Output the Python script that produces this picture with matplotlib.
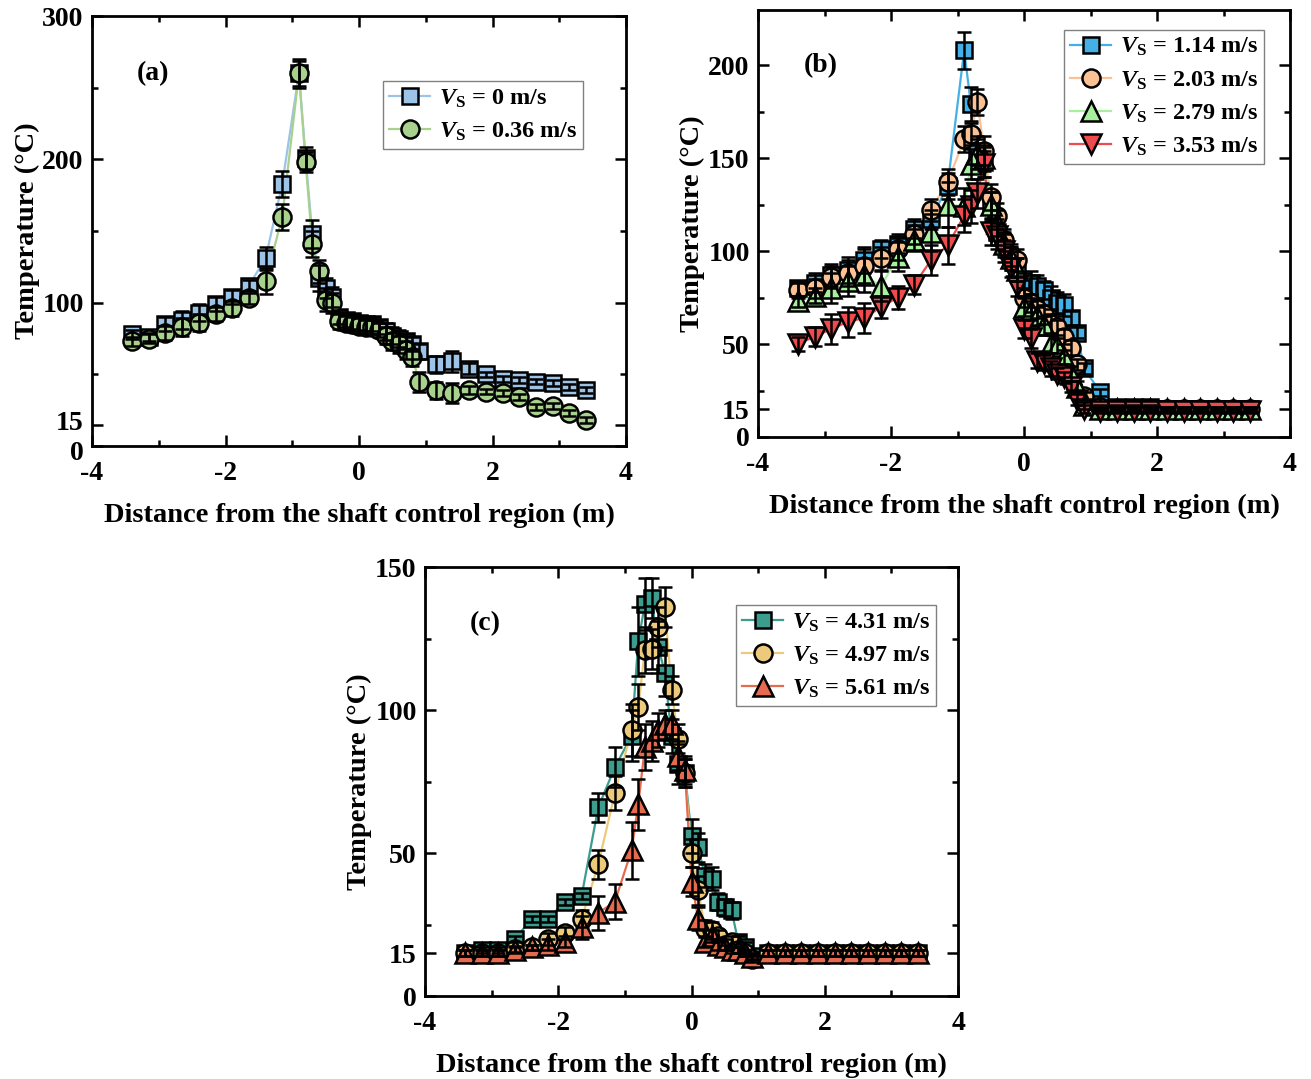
import matplotlib
matplotlib.use("Agg")
import matplotlib.pyplot as plt
import matplotlib.transforms as mtransforms
from matplotlib.ticker import FixedLocator, FixedFormatter

plt.rcParams['font.family'] = ['Liberation Serif', 'DejaVu Serif']
plt.rcParams['font.weight'] = 'bold'
plt.rcParams['mathtext.fontset'] = 'custom'
plt.rcParams['mathtext.rm'] = 'Liberation Serif:bold'
plt.rcParams['mathtext.it'] = 'Liberation Serif:italic:bold'
plt.rcParams['mathtext.bf'] = 'Liberation Serif:bold'
plt.rcParams['axes.unicode_minus'] = False

# thermocouple positions (m): 0.25 m spacing outside, 0.1 m spacing near the shaft
dist = [-3.4, -3.15, -2.9, -2.65, -2.4, -2.15, -1.9, -1.65, -1.4, -1.15, -0.9,
        -0.8, -0.7, -0.6, -0.5, -0.4, -0.3, -0.2, -0.1, 0.0,
        0.1, 0.2, 0.3, 0.4, 0.5, 0.6, 0.7, 0.8,
        0.9, 1.15, 1.4, 1.65, 1.9, 2.15, 2.4, 2.65, 2.9, 3.15, 3.4]

# (a) low shaft velocities
T_a_000 = [78, 76, 85, 88, 93, 99, 104, 112, 131, 183, 260,
           201, 148, 117, 110, 104, 90, 88, 87, 86,
           85, 85, 83, 80, 77, 75, 73, 71,
           66, 57, 59, 54, 50, 47, 46, 45, 44, 41, 39]
E_a_000 = [3, 3, 5, 6, 6, 5, 5, 4, 8, 9, 10,
           8, 10, 9, 7, 7, 5, 5, 5, 5,
           5, 5, 5, 6, 6, 6, 5, 5,
           5, 6, 7, 4, 2, 2, 2, 2, 2, 2, 2]
T_a_036 = [73, 75, 79, 83, 86, 92, 96, 103, 115, 160, 260,
           198, 141, 122, 102, 100, 87, 86, 85, 84,
           83, 83, 81, 77, 73, 71, 67, 62,
           45, 39, 37, 39, 38, 37, 34, 27, 28, 23, 18]
E_a_036 = [3, 3, 5, 6, 6, 5, 5, 4, 9, 9, 9,
           7, 9, 8, 8, 7, 5, 5, 5, 5,
           5, 5, 5, 6, 6, 6, 6, 6,
           7, 6, 7, 3, 2, 2, 2, 2, 2, 2, 2]

# (b) intermediate shaft velocities
T_b_114 = [80, 83, 87, 90, 95, 101, 104, 112, 117, 135, 208,
           179, 154, 148, 124, 110, 103, 96, 90, 82,
           83, 81, 79, 75, 72, 71, 64, 56,
           37, 24, 16, 16, 16, 15, 15, 15, 15, 15, 15]
E_b_114 = [4, 5, 6, 7, 7, 5, 5, 5, 5, 7, 10,
           9, 8, 8, 8, 7, 6, 6, 6, 6,
           6, 6, 5, 6, 6, 6, 4, 3,
           3, 2, 1, 1, 1, 1, 1, 1, 1, 1, 1]
T_b_203 = [79, 80, 86, 88, 92, 96, 101, 109, 122, 137, 160,
           163, 180, 154, 129, 119, 106, 98, 95, 75,
           72, 69, 66, 61, 59, 54, 48, 39,
           22, 16, 15, 15, 15, 15, 15, 15, 15, 15, 15]
E_b_203 = [4, 5, 6, 7, 9, 6, 6, 5, 6, 7, 7,
           6, 7, 8, 7, 7, 6, 6, 6, 5,
           5, 5, 5, 5, 4, 4, 4, 3,
           2, 1, 1, 1, 1, 1, 1, 1, 1, 1, 1]
T_b_279 = [73, 76, 80, 84, 87, 81, 97, 106, 110, 125, 124,
           147, 152, 150, 125, 115, 104, 96, 90, 70,
           68, 65, 60, 50, 49, 43, 34, 27,
           17, 15, 15, 15, 15, 15, 15, 15, 15, 15, 15]
E_b_279 = [3, 4, 8, 8, 9, 8, 8, 6, 10, 12, 10,
           8, 8, 7, 7, 7, 6, 6, 6, 5,
           5, 5, 5, 5, 4, 4, 4, 3,
           2, 1, 1, 1, 1, 1, 1, 1, 1, 1, 1]
T_b_353 = [50, 54, 58, 62, 64, 70, 75, 82, 95, 103, 119,
           124, 131, 147, 110, 108, 100, 91, 81, 58,
           53, 41, 40, 37, 34, 32, 27, 20,
           15, 14, 14, 14, 14, 14, 14, 14, 14, 14, 14]
E_b_353 = [4, 5, 8, 8, 8, 6, 6, 5, 8, 10, 9,
           9, 8, 7, 7, 7, 6, 5, 5, 5,
           5, 4, 4, 4, 3, 3, 3, 3,
           2, 1, 1, 1, 1, 1, 1, 1, 1, 1, 1]

# (c) high shaft velocities
T_c_431 = [15, 16, 16, 20, 27, 27, 33, 35, 66, 80, 91,
           124, 137, 139, 122, 113, 91, 81, 78, 56,
           52, 42, 41, 33, 31, 30, 19, 17,
           14, 15, 15, 15, 15, 15, 15, 15, 15, 15, 15]
E_c_431 = [1, 1, 1, 1, 1, 1, 1, 1, 5, 7, 9,
           12, 9, 7, 9, 8, 6, 7, 5, 6,
           5, 4, 4, 3, 3, 3, 2, 2,
           1, 1, 1, 1, 1, 1, 1, 1, 1, 1, 1]
T_c_497 = [15, 15, 15, 16.5, 17, 20, 22, 27, 46, 71, 93,
           101, 121, 121.5, 129, 136, 107, 90, 78, 50,
           37, 23.5, 23, 21, 18, 19, 16, 15,
           13, 15, 15, 15, 15, 15, 15, 15, 15, 15, 15]
E_c_497 = [1, 1, 1, 1, 1, 2, 2, 3, 5, 6, 9,
           8, 8, 7, 7, 7, 5, 5, 5, 5,
           5, 3, 3, 2, 2, 2, 1, 1,
           1, 1, 1, 1, 1, 1, 1, 1, 1, 1, 1]
T_c_561 = [15, 15, 15, 16, 17, 18, 19, 24, 29, 33, 51,
           67, 87, 89, 93, 95, 95, 84, 79, 40,
           27, 19, 21, 18, 17, 16, 16, 15,
           13.5, 15, 15, 15, 15, 15, 15, 15, 15, 15, 15]
E_c_561 = [1, 1, 1, 1, 1, 2, 2, 4, 6, 6, 10,
           9, 8, 7, 6, 5, 5, 5, 5, 5,
           4, 2, 2, 2, 1, 1, 1, 1,
           1, 1, 1, 1, 1, 1, 1, 1, 1, 1, 1]

x_label = 'Distance from the shaft control region (m)'
y_label = 'Temperature (°C)'


def draw_series(ax, y, err, color, marker, label, ms=13):
    ax.plot(dist, y, '-', color=color, lw=1.6, zorder=2)
    ax.plot(dist, y, linestyle='none', marker=marker, ms=ms, mfc=color,
            mec='black', mew=1.8, zorder=3)
    ax.errorbar(dist, y, yerr=err, fmt='none', ecolor='black', elinewidth=1.8,
                capsize=5, capthick=1.8, zorder=4)
    # legend proxy
    ax.plot([], [], '-', color=color, lw=1.6, marker=marker, ms=ms, mfc=color,
            mec='black', mew=1.8, label=label)


def style_axes(ax, ymax, major, minor, labels, tag, tag_pos):
    ax.set_xlim(-4, 4)
    ax.set_ylim(0, ymax)
    ax.xaxis.set_major_locator(FixedLocator([-4, -2, 0, 2, 4]))
    ax.xaxis.set_minor_locator(FixedLocator([-3, -1, 1, 3]))
    ax.yaxis.set_major_locator(FixedLocator(major))
    ax.yaxis.set_major_formatter(FixedFormatter(labels))
    ax.yaxis.set_minor_locator(FixedLocator(minor))
    ax.tick_params(which='both', direction='in', top=True, right=True,
                   labelsize=20, width=1.8)
    ax.tick_params(axis='x', pad=11)
    ax.tick_params(axis='y', pad=6)
    ax.tick_params(which='major', length=8)
    ax.tick_params(which='minor', length=4)
    for s in ax.spines.values():
        s.set_linewidth(2)
    for t in ax.get_xticklabels() + ax.get_yticklabels():
        t.set_fontweight('bold')
    ax.set_xlabel(x_label, fontsize=20.5, fontweight='bold', labelpad=12)
    ax.set_ylabel(y_label, fontsize=20.5, fontweight='bold', labelpad=2)
    ax.text(tag_pos[0], tag_pos[1], tag, transform=ax.transAxes, fontsize=20,
            fontweight='bold', ha='center', va='center')


def add_legend(ax, anchor):
    ax.legend(loc='upper left', bbox_to_anchor=anchor, fontsize=17.5,
              fancybox=False, edgecolor='#808080', framealpha=1,
              handlelength=1.7, borderpad=0.25, labelspacing=0.45,
              handletextpad=0.35, borderaxespad=0)


fig = plt.figure(figsize=(13.11, 10.79), dpi=100)

ax_a = fig.add_axes([0.0702, 0.5866, 0.4073, 0.3985])
ax_b = fig.add_axes([0.5782, 0.5950, 0.4058, 0.3957])
ax_c = fig.add_axes([0.3242, 0.0769, 0.4066, 0.3976])

draw_series(ax_a, T_a_000, E_a_000, '#9DC3E6', 's', r'$V_\mathrm{S}$ = 0 m/s', ms=12)
draw_series(ax_a, T_a_036, E_a_036, '#A9D18E', 'o', r'$V_\mathrm{S}$ = 0.36 m/s')
style_axes(ax_a, 300, [0, 15, 100, 200, 300], [50, 150, 250],
           ['0', '15', '100', '200', '300'], '(a)', (0.114, 0.867))
add_legend(ax_a, (0.545, 0.848))

# the 0 and 15 labels sit very close on the 0-300 scale: spread them a little
lbl_a = ax_a.get_yticklabels()
lbl_a[0].set_transform(lbl_a[0].get_transform() +
                       mtransforms.ScaledTranslation(0, -3 / 72, fig.dpi_scale_trans))
lbl_a[1].set_transform(lbl_a[1].get_transform() +
                       mtransforms.ScaledTranslation(0, 3 / 72, fig.dpi_scale_trans))

draw_series(ax_b, T_b_114, E_b_114, '#45B0E5', 's', r'$V_\mathrm{S}$ = 1.14 m/s', ms=12)
draw_series(ax_b, T_b_203, E_b_203, '#FAC195', 'o', r'$V_\mathrm{S}$ = 2.03 m/s')
draw_series(ax_b, T_b_279, E_b_279, '#A8F0A0', '^', r'$V_\mathrm{S}$ = 2.79 m/s', ms=14)
draw_series(ax_b, T_b_353, E_b_353, '#EE4B4F', 'v', r'$V_\mathrm{S}$ = 3.53 m/s', ms=14)
style_axes(ax_b, 229.6, [0, 15, 50, 100, 150, 200], [25, 75, 125, 175],
           ['0', '15', '50', '100', '150', '200'], '(b)', (0.117, 0.869))
add_legend(ax_b, (0.575, 0.953))

draw_series(ax_c, T_c_431, E_c_431, '#3C9D8F', 's', r'$V_\mathrm{S}$ = 4.31 m/s', ms=12)
draw_series(ax_c, T_c_497, E_c_497, '#EDCA7B', 'o', r'$V_\mathrm{S}$ = 4.97 m/s')
draw_series(ax_c, T_c_561, E_c_561, '#E56B50', '^', r'$V_\mathrm{S}$ = 5.61 m/s', ms=14)
style_axes(ax_c, 150, [0, 15, 50, 100, 150], [25, 75, 125],
           ['0', '15', '50', '100', '150'], '(c)', (0.113, 0.867))
add_legend(ax_c, (0.583, 0.911))

fig.savefig('out.png', dpi=100)
